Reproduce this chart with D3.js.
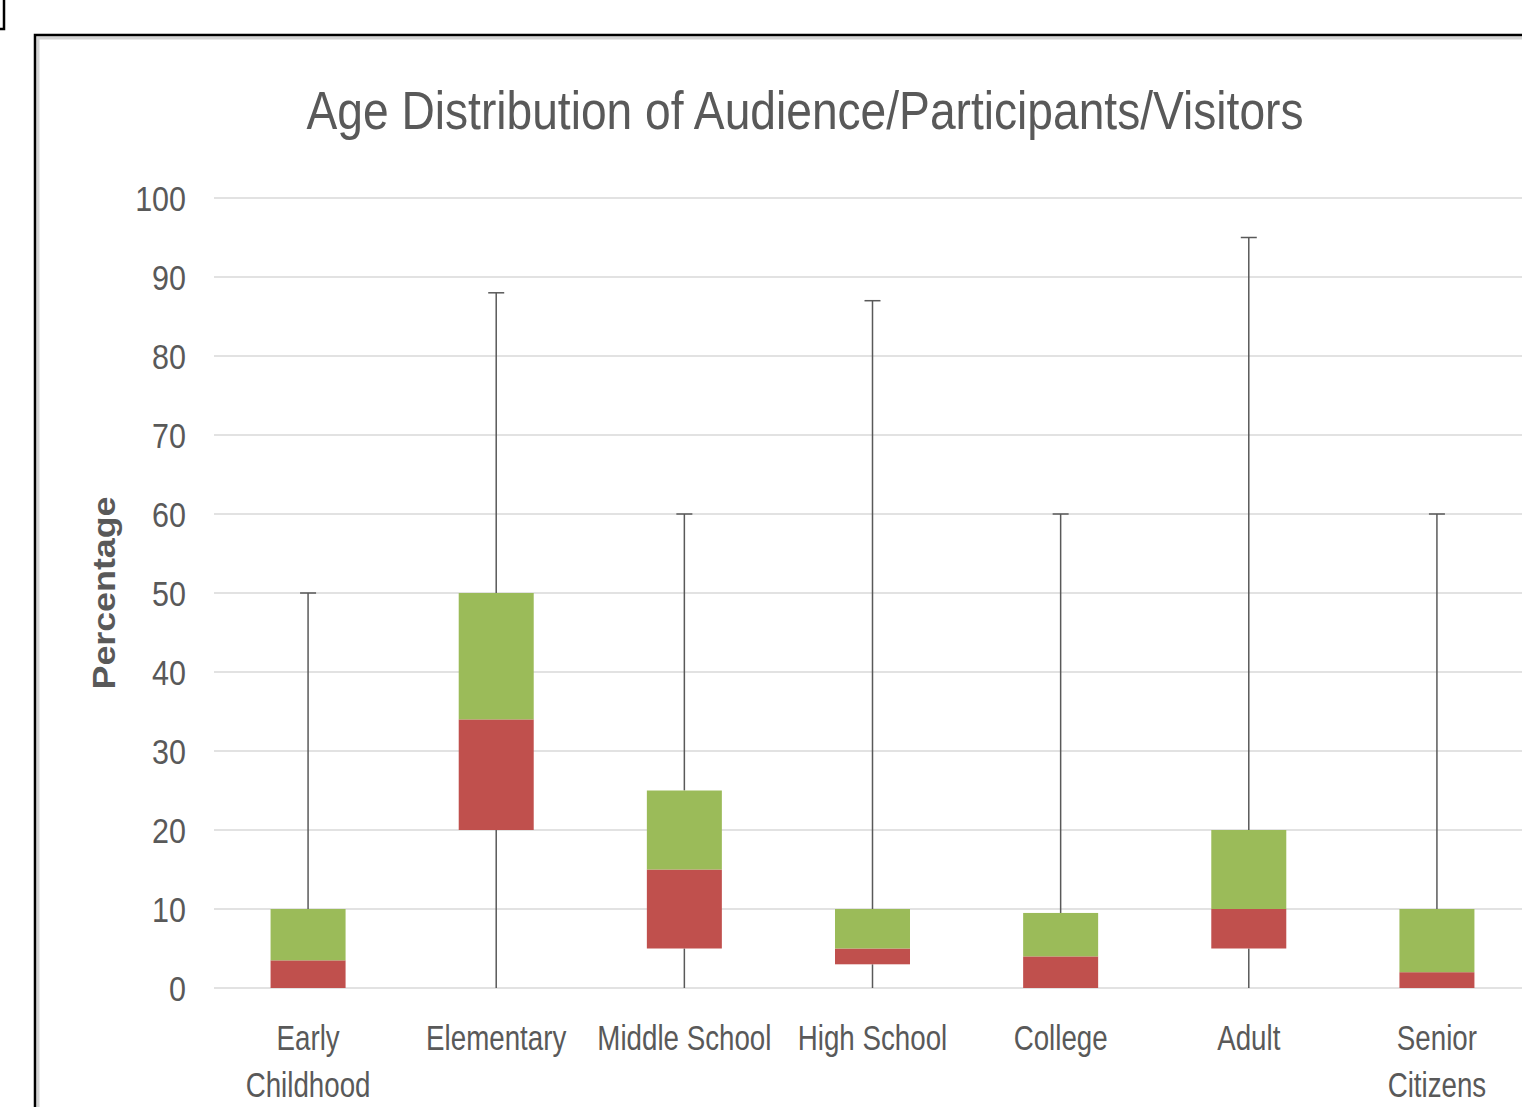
<!DOCTYPE html>
<html>
<head>
<meta charset="utf-8">
<script src="https://cdn.jsdelivr.net/npm/d3@7"></script>
<style>
  body { margin: 0; background: #fff; }
  text { font-family: "Liberation Sans Narrow", "Liberation Sans", Arial, sans-serif; fill: #595959; }
</style>
</head>
<body>
<div id="chart"></div>
<script>
// box plot values (Excel stacked column + error bar style)
const categories = [["Early", "Childhood"], ["Elementary"], ["Middle School"], ["High School"], ["College"], ["Adult"], ["Senior", "Citizens"]];
const q1 = [0, 20, 5, 3, 0, 5, 0];
const median = [3.5, 34, 15, 5, 4, 10, 2];
const q3 = [10, 50, 25, 10, 9.5, 20, 10];
const lowWhisker = [0, 0, 0, 0, 0, 0, 0];
const highWhisker = [50, 88, 60, 87, 60, 95, 60];
const yTicks = [0, 10, 20, 30, 40, 50, 60, 70, 80, 90, 100];

const width = 1522, height = 1107;
const margin = {top: 198, left: 214, bottom: 119};

const svg = d3.select("#chart")
  .append("svg")
  .attr("width", width)
  .attr("height", height);

// frame
svg.append("rect")
  .attr("x", -10).attr("y", -10)
  .attr("width", 14).attr("height", 39)
  .attr("fill", "none").attr("stroke", "#000").attr("stroke-width", 2.5);
svg.append("path")
  .attr("d", `M38,${height + 5} L38,38 L${width + 5},38`)
  .attr("fill", "none").attr("stroke", "#d4d4d4").attr("stroke-width", 3);
svg.append("path")
  .attr("d", `M35,${height + 5} L35,35 L${width + 5},35`)
  .attr("fill", "none").attr("stroke", "#000").attr("stroke-width", 2.5);

const x = d3.scaleBand()
  .domain(d3.range(categories.length))
  .range([margin.left, 1531])
  .paddingInner(0).paddingOuter(0);

const y = d3.scaleLinear()
  .domain([0, 100])
  .range([height - margin.bottom, margin.top]);

// title, used to find horizontal squeeze of the font
const title = svg.append("text")
  .attr("x", 805).attr("y", 129)
  .attr("text-anchor", "middle")
  .style("font-size", "53px")
  .text("Age Distribution of Audience/Participants/Visitors");
const natural = title.node().getComputedTextLength();
const k = 997 / natural;
title.attr("textLength", 997).attr("lengthAdjust", "spacingAndGlyphs");

function squeeze(sel, f) {
  sel.each(function() {
    const w = this.getComputedTextLength();
    d3.select(this).attr("textLength", w * k * (f || 1)).attr("lengthAdjust", "spacingAndGlyphs");
  });
}

// gridlines
svg.append("g")
  .selectAll("line")
  .data(yTicks)
  .join("line")
  .attr("x1", margin.left).attr("x2", width)
  .attr("y1", d => y(d)).attr("y2", d => y(d))
  .attr("stroke", "#d9d9d9").attr("stroke-width", 1.5);

// y axis labels
const yAxis = svg.append("g")
  .attr("transform", `translate(${margin.left - 28},0)`)
  .call(d3.axisLeft(y).tickValues(yTicks).tickSize(0).tickPadding(0));
yAxis.select(".domain").remove();
yAxis.selectAll("text")
  .attr("fill", "#595959")
  .style("font-size", "35px")
  .style("font-family", null)
  .attr("dy", "0.36em")
  .call(squeeze);

// y axis title
svg.append("text")
  .attr("transform", `translate(115,${593}) rotate(-90)`)
  .attr("text-anchor", "middle")
  .style("font-size", "31px")
  .style("font-weight", "bold")
  .attr("textLength", 193)
  .attr("lengthAdjust", "spacingAndGlyphs")
  .text("Percentage");

const boxW = 75;
const cx = i => x(i) + x.bandwidth() / 2;
const idx = d3.range(categories.length);

// whiskers
const wh = svg.append("g").attr("stroke", "#595959").attr("stroke-width", 1.5);
wh.selectAll(".up")
  .data(idx).join("line")
  .attr("x1", cx).attr("x2", cx)
  .attr("y1", i => y(q3[i])).attr("y2", i => y(highWhisker[i]));
wh.selectAll(".cap")
  .data(idx).join("line")
  .attr("x1", i => cx(i) - 8).attr("x2", i => cx(i) + 8)
  .attr("y1", i => y(highWhisker[i])).attr("y2", i => y(highWhisker[i]));
wh.selectAll(".down")
  .data(idx.filter(i => q1[i] > lowWhisker[i])).join("line")
  .attr("x1", cx).attr("x2", cx)
  .attr("y1", i => y(lowWhisker[i])).attr("y2", i => y(q1[i]));

// lower half of box (q1 -> median)
svg.append("g")
  .selectAll("rect")
  .data(idx).join("rect")
  .attr("x", i => cx(i) - boxW / 2)
  .attr("width", boxW)
  .attr("y", i => y(median[i]))
  .attr("height", i => y(q1[i]) - y(median[i]))
  .attr("fill", "#c0504d");

// upper half of box (median -> q3)
svg.append("g")
  .selectAll("rect")
  .data(idx).join("rect")
  .attr("x", i => cx(i) - boxW / 2)
  .attr("width", boxW)
  .attr("y", i => y(q3[i]))
  .attr("height", i => y(median[i]) - y(q3[i]))
  .attr("fill", "#9bbb59");

// category labels (squeezed horizontally like the narrow source font)
const cat = svg.append("g")
  .selectAll("text")
  .data(idx).join("text")
  .attr("text-anchor", "middle")
  .attr("transform", i => `translate(${cx(i)},0) scale(${k * 0.91},1)`)
  .style("font-size", "35px");
cat.selectAll("tspan")
  .data(i => categories[i].map((t, j) => ({t, j, i})))
  .join("tspan")
  .attr("x", 0)
  .attr("y", d => 1050 + d.j * 47)
  .text(d => d.t);
</script>
</body>
</html>
